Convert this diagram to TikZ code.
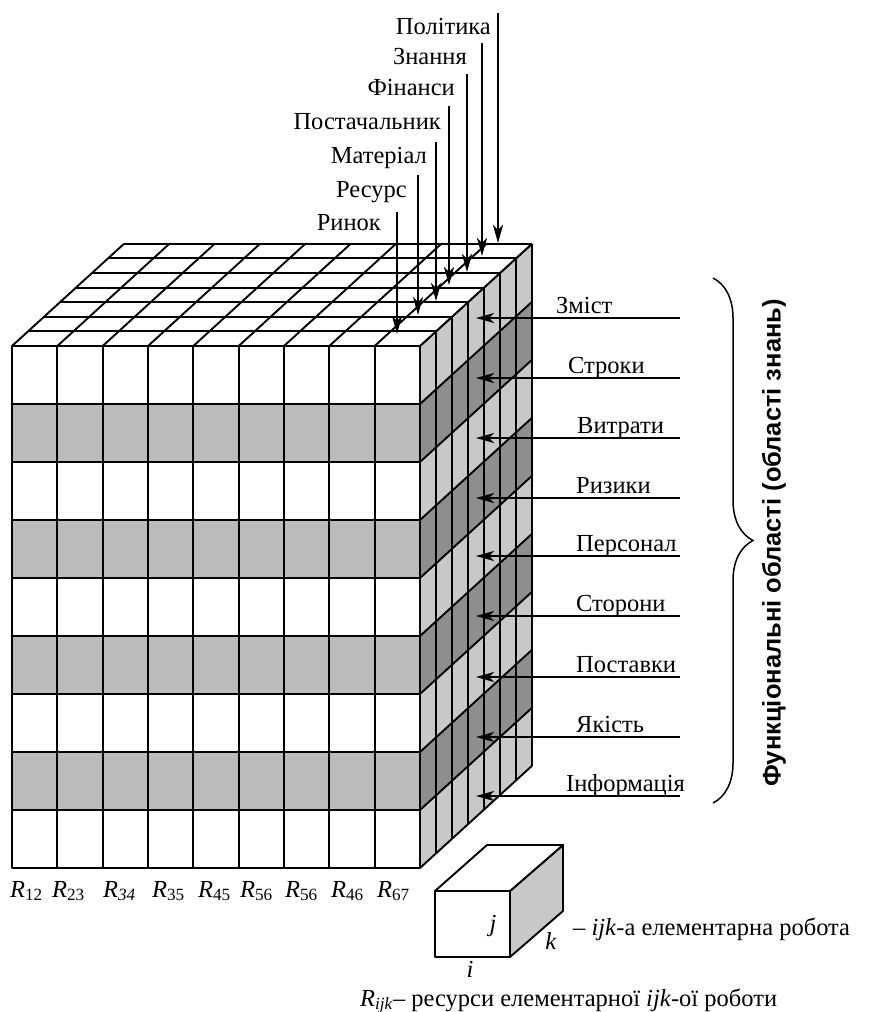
\documentclass[tikz,border=0pt]{standalone}
\usepackage{fontspec}
\setmainfont{Liberation Serif}
\setsansfont{Liberation Sans}
\usetikzlibrary{arrows.meta,positioning,decorations.pathreplacing,calc}
\definecolor{slabgray}{HTML}{BBBBBB}
\definecolor{sidelight}{HTML}{C8C8C8}
\definecolor{sidedark}{HTML}{8E8E8E}
\tikzset{
  cell/.style={draw=black, line width=1.9pt, line join=round},
  feed/.style={-{Stealth[length=18pt,width=10pt,inset=5pt]}, line width=2.1pt},
  lbl/.style={font=\fontsize{24.5}{28}\selectfont, inner sep=0pt},
  arealbl/.style={font=\sffamily\bfseries\fontsize{25.5}{30}\selectfont, inner sep=0pt, rotate=90},
  curly/.style={decorate, decoration={brace, amplitude=40pt}, line width=1.5pt},
}

\begin{document}
\begin{tikzpicture}[x=1pt,y=-1pt]
  \useasboundingbox (0,0) rectangle (869,1012);
  \foreach \r in {0,...,8} {
    \pgfmathsetmacro{\yt}{346+58*\r}
    \ifodd\r\relax \def\sc{sidedark}\def\fc{slabgray}\else \def\sc{sidelight}\def\fc{white}\fi
    \fill[\sc] (420,\yt) -- ++(112,-102.2) -- ++(0,58) -- ++(-112,102.2) -- cycle;
    \draw[cell,fill=\fc] (12,\yt) rectangle ++(408,58);
  }
  \foreach \d in {1,...,7} \draw[cell] (420+16*\d,346-14.6*\d) -- ++(0,522);
  \foreach \r in {0,...,9} \draw[cell] (420,346+58*\r) -- ++(112,-102.2);
  \fill[white] (12,346) -- (420,346) -- (532,243.8) -- (124,243.8) -- cycle;
  \foreach \i in {0,...,9} \draw[cell] (12+45.33*\i,346) -- ++(112,-102.2);
  \foreach \d in {0,...,7} \draw[cell] (12+16*\d,346-14.6*\d) -- ++(408,0);
  \foreach \i in {1,...,8} \draw[cell] (12+45.33*\i,346) -- ++(0,522);

  \foreach \nm/\txt/\x/\ys/\yt/\tx/\tb in {rinok/Ринок/397/212/334/381/230,
      resurs/Ресурс/418/175/315/407/197, material/Матеріал/436/142/301/427/163,
      postach/Постачальник/449/106/285/441/129, finansy/Фінанси/467/74/272/455/95,
      znannia/Знання/482/43/256/467/64, polityka/Політика/498/13/243/491/34} {
    \coordinate (src-\nm) at (\x,\ys);
    \coordinate (tip-\nm) at (\x,\yt);
    \node[lbl, anchor=base east] (lbl-\nm) at (\tx,\tb) {\txt};
    \draw[feed] (src-\nm) -- (tip-\nm);
  }

  \foreach \nm/\txt/\y/\tx in {zmist/Зміст/318/556, stroky/Строки/378/568,
      vytraty/Витрати/438/577, ryzyky/Ризики/498/576, personal/Персонал/556/576,
      storony/Сторони/616/576, postavky/Поставки/677/576, yakist/Якість/737/576,
      info/Інформація/796/566} {
    \coordinate (src-\nm) at (680,\y);
    \coordinate (tip-\nm) at (476,\y);
    \node[lbl, anchor=base west] (lbl-\nm) at (\tx,\y-5) {\txt};
    \draw[feed] (src-\nm) -- (tip-\nm);
  }

  \coordinate (brace-top) at (713,278);
  \coordinate (brace-bot) at (713,803);
  \draw[curly] (brace-top) -- (brace-bot);
  \node[arealbl] (areas) at (774,543) {Функціональні області (області знань)};

  \foreach \sub/\x in {12/10, 23/52, {\textit{34}}/103, 35/152, 45/198, 56/240, 56/285, 46/331, 67/377}
    \node[lbl, anchor=base west] at (\x,897) {\textit{R}\textsubscript{\sub}};

  \draw[cell,fill=sidelight] (510,891) -- (563,845) -- (563,911) -- (510,957) -- cycle;
  \draw[cell,fill=white] (435,891) -- (487,845) -- (563,845) -- (510,891) -- cycle;
  \draw[cell,fill=white] (435,891) rectangle (510,957);
  \node[lbl] (j-edge) at (493,926) {\textit{j}};
  \node[lbl] (k-edge) at (551,941) {\textit{k}};
  \node[lbl] (i-edge) at (470,969) {\textit{i}};
  \node[lbl, anchor=base west] (ijk-note) at (573,935) {– \textit{ijk}-а елементарна робота};
  \node[lbl, anchor=base west] (rijk-note) at (360,1006) {\textit{R}\textsubscript{\textit{ijk}}– ресурси елементарної \textit{ijk}-ої роботи};
\end{tikzpicture}
\end{document}
